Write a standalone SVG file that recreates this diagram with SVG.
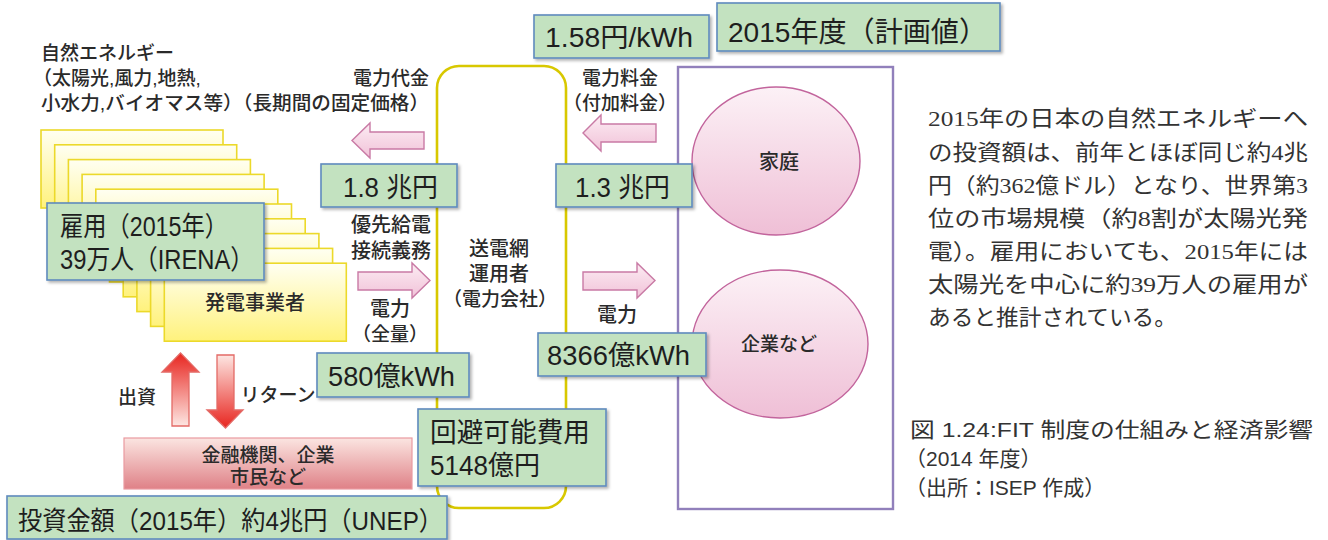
<svg xmlns="http://www.w3.org/2000/svg" width="1328" height="540" viewBox="0 0 1328 540">
<defs>
<style>
text{font-family:"Liberation Sans","Noto Sans CJK JP",sans-serif;fill:#2a2a2a}
.lbl{font-size:19px;font-weight:500}
.gbox{fill:#c3e2c0;stroke:#5f8bbd;stroke-width:1.6;filter:url(#sh)}
.gt{font-size:27px;fill:#1e1e1e}
.ybox{fill:url(#yg);stroke:#ecd92a;stroke-width:1.6}
.parr{fill:url(#pg);stroke:#c97aa5;stroke-width:1.4}
.circ{fill:url(#cg);stroke:#c2649c;stroke-width:1.4}
.body{font-family:"Liberation Serif","Noto Sans CJK JP",serif;font-size:22px;fill:#333}
.cap{font-size:21px;fill:#333}
</style>
<linearGradient id="yg" x1="0" y1="0" x2="0" y2="1"><stop offset="0" stop-color="#fffff2"/><stop offset="1" stop-color="#fff27c"/></linearGradient>
<linearGradient id="pg" x1="0" y1="0" x2="0" y2="1"><stop offset="0" stop-color="#fcecf3"/><stop offset="1" stop-color="#f1c2d8"/></linearGradient>
<linearGradient id="cg" x1="0" y1="0" x2="0" y2="1"><stop offset="0" stop-color="#fcf1f6"/><stop offset="1" stop-color="#efbfd6"/></linearGradient>
<linearGradient id="rg" x1="0" y1="0" x2="0" y2="1"><stop offset="0" stop-color="#fbe5e1"/><stop offset="1" stop-color="#df8187"/></linearGradient>
<linearGradient id="upg" x1="0" y1="0" x2="0" y2="1"><stop offset="0" stop-color="#e8251f"/><stop offset="1" stop-color="#fde6e2"/></linearGradient>
<linearGradient id="dng" x1="0" y1="0" x2="0" y2="1"><stop offset="0" stop-color="#fde6e2"/><stop offset="1" stop-color="#e8251f"/></linearGradient>
<filter id="sh" x="-10%" y="-10%" width="125%" height="140%"><feDropShadow dx="2" dy="2" stdDeviation="1.5" flood-color="#000" flood-opacity="0.3"/></filter>
</defs>
<rect width="1328" height="540" fill="#ffffff"/>

<!-- containers -->
<g id="grid-frame">
<rect x="437" y="66" width="129" height="442" rx="22" fill="none" stroke="#d8c800" stroke-width="2.6"/>
</g>
<g id="consumer-frame">
<rect x="678" y="67" width="215" height="442" fill="none" stroke="#9180bb" stroke-width="2.4"/>
</g>

<!-- generators stack -->
<g id="generators">
<rect class="ybox" x="41" y="130" width="182" height="78"/>
<rect class="ybox" x="54.7" y="144.8" width="182" height="78"/>
<rect class="ybox" x="68.4" y="159.6" width="182" height="78"/>
<rect class="ybox" x="82.1" y="174.4" width="182" height="78"/>
<rect class="ybox" x="95.8" y="189.2" width="182" height="78"/>
<rect class="ybox" x="109.5" y="204" width="182" height="78"/>
<rect class="ybox" x="123.2" y="218.8" width="182" height="78"/>
<rect class="ybox" x="136.9" y="233.6" width="182" height="78"/>
<rect class="ybox" x="150.6" y="248.4" width="182" height="78"/>
<rect class="ybox" x="164.3" y="263.2" width="182" height="78"/>
<text x="255" y="310" text-anchor="middle" style="font-size:20px;font-weight:500">発電事業者</text>
</g>

<g id="source-label">
<text class="lbl" x="41" y="60">自然エネルギー</text>
<text class="lbl" x="33" y="85">（太陽光,風力,地熱,</text>
<text class="lbl" x="41" y="110" textLength="388" lengthAdjust="spacingAndGlyphs">小水力,バイオマス等）（長期間の固定価格）</text>
<text class="lbl" x="429" y="85" text-anchor="end">電力代金</text>
</g>

<g id="employment">
<rect class="gbox" x="47" y="203" width="217" height="77"/>
<text class="gt" x="60" y="236" textLength="168" lengthAdjust="spacingAndGlyphs">雇用（2015年）</text>
<text class="gt" x="60" y="269" textLength="194" lengthAdjust="spacingAndGlyphs">39万人（IRENA）</text>
</g>

<!-- consumers -->
<g id="household">
<ellipse class="circ" cx="776" cy="161" rx="84" ry="74"/>
<text x="779" y="169" text-anchor="middle" style="font-size:20px;font-weight:500">家庭</text>
</g>
<g id="companies">
<ellipse class="circ" cx="780" cy="344" rx="88" ry="74"/>
<text x="779" y="351" text-anchor="middle" style="font-size:19px;font-weight:500">企業など</text>
</g>

<g id="grid-operator">
<text class="lbl" x="499" y="256" text-anchor="middle" style="font-size:20px">送電網</text>
<text class="lbl" x="499" y="281" text-anchor="middle" style="font-size:20px">運用者</text>
<text class="lbl" x="500" y="306" text-anchor="middle" style="font-size:19px">（電力会社）</text>
</g>

<!-- connectors -->
<g id="connectors">
<polygon class="parr" points="424,132 370,132 370,123 352,140.5 370,158 370,149 424,149"/>
<polygon class="parr" points="656,124 601,124 601,115 583,133 601,151 601,142 656,142"/>
<polygon class="parr" points="358,272 412,272 412,263 430,280.5 412,298 412,290 358,290"/>
<polygon class="parr" points="583,272 637,272 637,263 655,280.5 637,298 637,290 583,290"/>
<polygon points="172,426 172,372 162,372 180.5,353 199,372 189,372 189,426" fill="url(#upg)" stroke="#e36a66" stroke-width="1.3"/>
<polygon points="217,355 234,355 234,410 243,410 225.5,428 207,410 217,410" fill="url(#dng)" stroke="#e36a66" stroke-width="1.3"/>
</g>

<g id="flow-labels">
<text class="lbl" x="620" y="85" text-anchor="middle">電力料金</text>
<text class="lbl" x="620" y="110" text-anchor="middle">（付加料金）</text>
<text class="lbl" x="391" y="232" text-anchor="middle" style="font-size:20px">優先給電</text>
<text class="lbl" x="391" y="258" text-anchor="middle" style="font-size:20px">接続義務</text>
<text class="lbl" x="390" y="316" text-anchor="middle" style="font-size:20px">電力</text>
<text class="lbl" x="390" y="341" text-anchor="middle">（全量）</text>
<text class="lbl" x="617" y="322" text-anchor="middle" style="font-size:20px">電力</text>
<text class="lbl" x="137" y="404" text-anchor="middle">出資</text>
<text class="lbl" x="278" y="402" text-anchor="middle">リターン</text>
</g>

<g id="investors">
<rect x="124" y="438" width="288" height="51" fill="url(#rg)" stroke="#ea9aa0" stroke-width="1.2"/>
<text class="lbl" x="268" y="462" text-anchor="middle">金融機関、企業</text>
<text class="lbl" x="268" y="484" text-anchor="middle">市民など</text>
</g>

<!-- value boxes -->
<g id="price-158">
<rect class="gbox" x="534" y="15" width="175" height="43"/>
<text class="gt" x="545" y="47" textLength="148" lengthAdjust="spacingAndGlyphs">1.58円/kWh</text>
</g>
<g id="fy2015">
<rect class="gbox" x="717" y="3" width="283" height="48"/>
<text class="gt" x="728" y="42" style="font-size:28px" textLength="259" lengthAdjust="spacingAndGlyphs">2015年度（計画値）</text>
</g>
<g id="pay-18">
<rect class="gbox" x="321" y="164" width="136" height="43"/>
<text class="gt" x="343" y="197" textLength="95" lengthAdjust="spacingAndGlyphs">1.8 兆円</text>
</g>
<g id="pay-13">
<rect class="gbox" x="556" y="164" width="136" height="43"/>
<text class="gt" x="575" y="197" textLength="95" lengthAdjust="spacingAndGlyphs">1.3 兆円</text>
</g>
<g id="kwh-580">
<rect class="gbox" x="317" y="353" width="152" height="44"/>
<text class="gt" x="328" y="386" textLength="127" lengthAdjust="spacingAndGlyphs">580億kWh</text>
</g>
<g id="kwh-8366">
<rect class="gbox" x="538" y="333" width="168" height="43"/>
<text class="gt" x="547" y="365" textLength="143" lengthAdjust="spacingAndGlyphs">8366億kWh</text>
</g>
<g id="avoided-cost">
<rect class="gbox" x="418" y="409" width="188" height="77"/>
<text class="gt" x="430" y="442" textLength="160" lengthAdjust="spacingAndGlyphs">回避可能費用</text>
<text class="gt" x="430" y="475" textLength="110" lengthAdjust="spacingAndGlyphs">5148億円</text>
</g>
<g id="investment">
<rect class="gbox" x="7" y="496" width="440" height="43"/>
<text class="gt" x="18" y="530" style="font-size:26px" textLength="425" lengthAdjust="spacingAndGlyphs">投資金額（2015年）約4兆円（UNEP）</text>
</g>

<!-- body text -->
<g id="description">
<text class="body" x="928" y="126" textLength="380" lengthAdjust="spacingAndGlyphs">2015年の日本の自然エネルギーへ</text>
<text class="body" x="928" y="160" textLength="380" lengthAdjust="spacingAndGlyphs">の投資額は、前年とほぼ同じ約4兆</text>
<text class="body" x="928" y="193" textLength="380" lengthAdjust="spacingAndGlyphs">円（約362億ドル）となり、世界第3</text>
<text class="body" x="928" y="226" textLength="380" lengthAdjust="spacingAndGlyphs">位の市場規模（約8割が太陽光発</text>
<text class="body" x="928" y="259" textLength="380" lengthAdjust="spacingAndGlyphs">電）。雇用においても、2015年には</text>
<text class="body" x="928" y="292" textLength="380" lengthAdjust="spacingAndGlyphs">太陽光を中心に約39万人の雇用が</text>
<text class="body" x="928" y="325" textLength="249" lengthAdjust="spacingAndGlyphs">あると推計されている。</text>
</g>

<g id="caption">
<text class="cap" x="910" y="437" textLength="403" lengthAdjust="spacingAndGlyphs">図 1.24:FIT 制度の仕組みと経済影響</text>
<text class="cap" x="905" y="466">（2014 年度）</text>
<text class="cap" x="905" y="495">（出所：ISEP 作成）</text>
</g>
</svg>
